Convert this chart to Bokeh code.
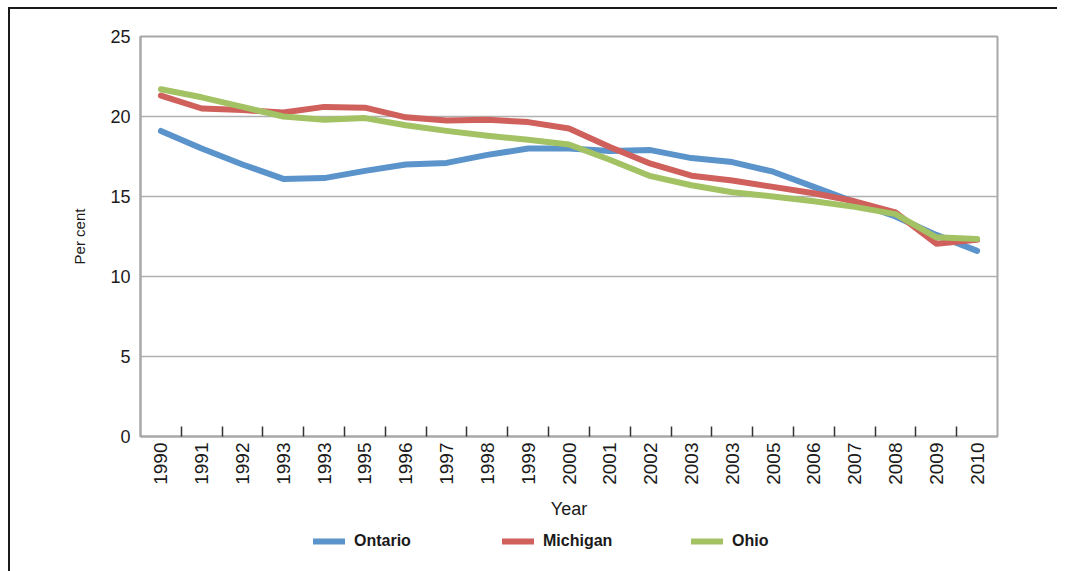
import math
from bokeh.plotting import figure
from bokeh.layouts import column
from bokeh.models import FixedTicker, Legend, LegendItem, Range1d
from bokeh.embed import file_html
from bokeh.resources import INLINE

years = ["1990", "1991", "1992", "1993", "1993", "1995", "1996", "1997", "1998", "1999",
         "2000", "2001", "2002", "2003", "2003", "2005", "2006", "2007", "2008", "2009", "2010"]
ontario = [19.1, 18.0, 17.0, 16.1, 16.15, 16.6, 17.0, 17.1, 17.6, 18.0,
           18.0, 17.85, 17.9, 17.4, 17.15, 16.55, 15.6, 14.65, 13.75, 12.6, 11.6]
michigan = [21.3, 20.5, 20.4, 20.25, 20.6, 20.55, 19.95, 19.75, 19.8, 19.65,
            19.25, 18.1, 17.05, 16.3, 16.0, 15.6, 15.2, 14.7, 14.0, 12.05, 12.3]
ohio = [21.7, 21.2, 20.6, 20.0, 19.8, 19.9, 19.45, 19.1, 18.8, 18.55,
        18.25, 17.3, 16.27, 15.7, 15.27, 15.0, 14.7, 14.35, 13.9, 12.45, 12.35]
series_names = ["Ontario", "Michigan", "Ohio"]
colors = ["#5B93CB", "#CF605B", "#A3C263"]
y_ticks = [0, 5, 10, 15, 20, 25]

xs = list(range(len(years)))
series = [ontario, michigan, ohio]

p = figure(frame_width=857, frame_height=400,
           x_range=Range1d(-0.5, len(years) - 0.5), y_range=Range1d(0, 25),
           output_backend="svg", toolbar_location=None,
           min_border_left=130, min_border_right=60, min_border_top=27, min_border_bottom=90)
p.background_fill_color = "white"
p.border_fill_color = "white"
p.outline_line_color = "#A8A8A8"
p.outline_line_width = 2

for vals, c in zip(series, colors):
    p.line(xs, vals, line_color=c, line_width=6, line_join="round", line_cap="round")

# x axis
p.xaxis.ticker = FixedTicker(ticks=xs, minor_ticks=[i + 0.5 for i in range(len(years) - 1)])
p.xaxis.major_label_overrides = {i: lab for i, lab in enumerate(years)}
p.xaxis.major_label_orientation = math.pi / 2
p.xaxis.major_tick_line_color = None
p.xaxis.major_tick_in = 0
p.xaxis.major_tick_out = 0
p.xaxis.minor_tick_in = 10
p.xaxis.minor_tick_out = 0
p.xaxis.minor_tick_line_color = "#333333"
p.xaxis.minor_tick_line_width = 1.5
p.xaxis.axis_line_color = "#A8A8A8"
p.xaxis.axis_line_width = 2
p.xaxis.major_label_text_font = "Liberation Sans"
p.xaxis.major_label_text_font_size = "19px"
p.xaxis.major_label_text_color = "#1a1a1a"
p.xaxis.major_label_standoff = 6
p.xaxis.axis_label = "Year"
p.xaxis.axis_label_text_font = "Liberation Sans"
p.xaxis.axis_label_text_font_style = "normal"
p.xaxis.axis_label_text_font_size = "18px"
p.xaxis.axis_label_text_color = "#1a1a1a"
p.xaxis.axis_label_standoff = 11

# y axis
p.yaxis.ticker = FixedTicker(ticks=y_ticks)
p.yaxis.major_tick_line_color = None
p.yaxis.major_tick_in = 0
p.yaxis.major_tick_out = 0
p.yaxis.minor_tick_line_color = None
p.yaxis.minor_tick_out = 0
p.yaxis.axis_line_color = "#A8A8A8"
p.yaxis.axis_line_width = 2
p.yaxis.major_label_text_font = "Liberation Sans"
p.yaxis.major_label_text_font_size = "18px"
p.yaxis.major_label_text_color = "#1a1a1a"
p.yaxis.major_label_standoff = 10
p.yaxis.axis_label = "Per cent"
p.yaxis.axis_label_text_font = "Liberation Sans"
p.yaxis.axis_label_text_font_style = "normal"
p.yaxis.axis_label_text_font_size = "15px"
p.yaxis.axis_label_text_color = "#1a1a1a"
p.yaxis.axis_label_standoff = 19

p.xgrid.grid_line_color = None
p.ygrid.grid_line_color = "#B0B0B0"
p.ygrid.grid_line_width = 1.5

# legend row: a strip figure whose (out-of-range, hence invisible) series lines feed the legend
leg = figure(width=1047, height=45, x_range=Range1d(-100, -99), y_range=Range1d(-100, -99),
             output_backend="svg", toolbar_location=None,
             x_axis_type=None, y_axis_type=None,
             min_border_left=0, min_border_right=0, min_border_top=0, min_border_bottom=0)
leg.outline_line_color = None
leg.xgrid.grid_line_color = None
leg.ygrid.grid_line_color = None
leg.background_fill_color = "white"
leg_renderers = [leg.line(xs, vals, line_color=c, line_width=6, line_cap="round")
                 for vals, c in zip(series, colors)]

legend = Legend(items=[LegendItem(label=n, renderers=[r]) for n, r in zip(series_names, leg_renderers)],
                orientation="horizontal", location=(173, 20),
                label_width=71, spacing=77, glyph_width=32, label_standoff=9,
                border_line_color=None, background_fill_alpha=0,
                label_text_font="Liberation Sans", label_text_font_style="bold",
                label_text_font_size="16px", label_text_color="#1a1a1a",
                padding=3, margin=0)
leg.add_layout(legend, "center")

layout = column(p, leg, spacing=0)
layout.styles = {"border-top": "2px solid #1a1a1a", "border-left": "2px solid #1a1a1a",
                 "margin-left": "8px", "margin-top": "7px"}

open("out.html", "w").write(file_html(layout, INLINE))
